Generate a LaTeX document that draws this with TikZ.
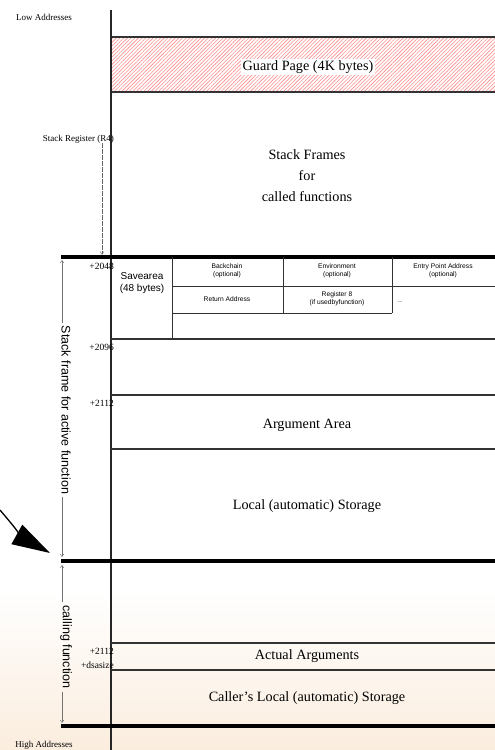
\documentclass[tikz,border=0pt]{standalone}
\usepackage{fontspec}
\setmainfont{Liberation Serif}
\setsansfont{Liberation Sans}
\usetikzlibrary{patterns.meta,arrows.meta,calc}
\tikzset{barbtip/.tip={Straight Barb[length=2.5pt,width=3.5pt]}}
\begin{document}
\begin{tikzpicture}[x=1pt,y=-1pt,
  axis/.style={line width=1.2pt, draw=black!85},
  heavyrule/.style={line width=4pt, draw=black},
  rule/.style={line width=1.1pt, draw=black!80},
  cellrule/.style={line width=0.8pt, draw=black!80},
  biglbl/.style={font=\fontsize{14.2}{21}\selectfont, align=center, inner sep=1.5pt},
  smalllbl/.style={font=\fontsize{9}{10}\selectfont, inner sep=0pt},
  offsetlbl/.style={font=\fontsize{9.5}{10}\selectfont, inner sep=0pt, anchor=east},
  celllbl/.style={font=\sffamily\fontsize{6.7}{8}\selectfont, align=center, inner sep=0pt},
  sidelbl/.style={font=\sffamily\fontsize{12.5}{13}\selectfont, rotate=-90, inner sep=3pt},
  bracket/.style={draw=black!55, line width=0.45pt},
]
\useasboundingbox (0,0) rectangle (495,750);
\fill[white] (0,0) rectangle (495,750);
% warm tint towards the bottom of the page
\shade[top color=white, bottom color={rgb,255:red,251;green,237;blue,222}] (0,590) rectangle (495,750);

% guard page
\fill[pattern={Lines[angle=45,distance=2.6pt,line width=0.6pt]}, pattern color=red!45]
  (111,37) rectangle (495,92);
\draw[rule] (111,37) -- (495,37) (111,92) -- (495,92);

% address axis
\draw[axis] (111,10) -- (111,750);

% frame boundaries
\draw[heavyrule] (61,257) -- (495,257);
\draw[heavyrule] (61,561) -- (495,561);
\draw[heavyrule] (61,726) -- (495,726);

% area separators
\draw[rule] (111,339) -- (495,339);
\draw[rule] (111,395) -- (495,395);
\draw[rule] (111,449) -- (495,449);
\draw[rule] (111,643) -- (495,643);
\draw[rule] (111,670) -- (495,670);

% save area grid
\draw[cellrule] (172,257) -- (172,339);
\draw[cellrule] (172,286) -- (495,286);
\draw[cellrule] (172,313) -- (392,313);
\draw[cellrule] (283,257) -- (283,313);
\draw[cellrule] (392,257) -- (392,313);

% labels
\node[smalllbl] (lowaddr) at (44,17) {Low Addresses};
\node[smalllbl] (highaddr) at (44,745) {High Addresses};
\node[biglbl, fill=white] (guard) at (308,67) {Guard Page (4K bytes)};
\node[biglbl] (called) at (307,176) {Stack Frames\\for\\called functions};
\node[smalllbl, anchor=east] (sreg) at (114,139) {Stack Register (R4)};
\coordinate (frametop) at (102,255);
\draw[draw=black!60, line width=0.4pt, dash pattern=on 5pt off 1pt, -{Straight Barb[length=3pt,width=3.5pt]}]
  (frametop |- sreg.south) -- (frametop);

\node[offsetlbl] (off2048) at (114,266) {+2048};
\node[offsetlbl] (off2096) at (114,347) {+2096};
\node[offsetlbl] (off2112) at (114,403) {+2112};
\node[offsetlbl] (offcall) at (114,651) {+2112};
\node[offsetlbl] (offdsa) at (114,665) {+dsasize};

\node[font=\sffamily\fontsize{10}{12}\selectfont, align=center] (save) at (142,283) {Savearea\\(48 bytes)};
\node[celllbl] (backchain) at (227,271) {Backchain\\(optional)};
\node[celllbl] (env) at (337,271) {Environment\\(optional)};
\node[celllbl] (entry) at (443,271) {Entry Point Address\\(optional)};
\node[celllbl] (retaddr) at (227,299) {Return Address};
\node[celllbl] (reg8) at (337,299) {Register 8\\(if usedbyfunction)};
\node[celllbl] (more) at (400,302) {..};

\node[biglbl] (argarea) at (307,425) {Argument Area};
\node[biglbl] (local) at (307,506) {Local (automatic) Storage};
\node[biglbl] (actual) at (307,656) {Actual Arguments};
\node[biglbl] (caller) at (307,698) {Caller's Local (automatic) Storage};

% extent of the active frame
\coordinate (acttop) at (62,260);
\coordinate (actbot) at (62,557);
\node[sidelbl, anchor=center] (active) at (66,410) {Stack frame for active function};
\draw[bracket, barbtip-] (acttop) -- (acttop |- active.west);
\draw[bracket, -barbtip] (actbot |- active.east) -- (actbot);

% extent of the caller's frame
\coordinate (calltop) at (62,565);
\coordinate (callbot) at (62,723);
\node[sidelbl, anchor=center] (calling) at (66,647) {calling function};
\draw[bracket, barbtip-] (calltop) -- (calltop |- calling.west);
\draw[bracket, -barbtip] (callbot |- calling.east) -- (callbot);

% pointer to the frame boundary
\coordinate (ptrstart) at (0,510);
\coordinate (ptrend) at (50,553);
\draw[line width=1.3pt, -{Triangle[length=38pt,width=22pt]}]
  (ptrstart) .. controls (10,522) and (25,539) .. (ptrend);
\end{tikzpicture}
\end{document}
